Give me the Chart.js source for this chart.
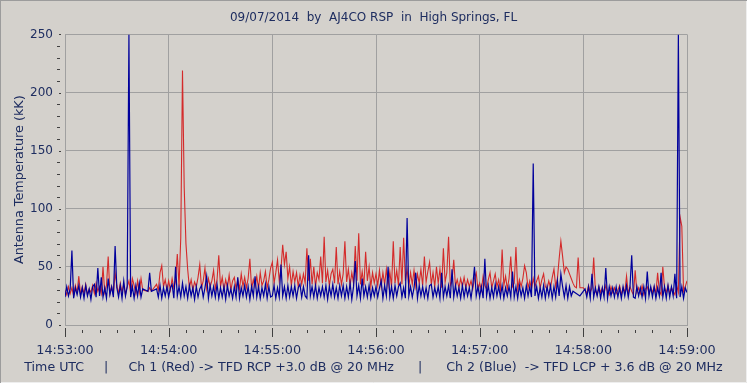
<!DOCTYPE html>
<html><head><meta charset="utf-8">
<script src="https://cdn.jsdelivr.net/npm/chart.js@4/dist/chart.umd.min.js"></script>
<style>html,body{margin:0;padding:0;background:#d4d1cc;}#wrap{width:747px;height:383px;position:relative}</style>
</head><body><div id="wrap"><canvas id="c" width="747" height="383"></canvas></div>
<script>
// time axis: seconds after 14:53:00 (one sample per second)
const sampleSeconds = Array.from({length: 361}, (_, i) => i);
const tickSeconds = [0, 60, 120, 180, 240, 300, 360];
const tickLabels = ['14:53:00','14:54:00','14:55:00','14:56:00','14:57:00','14:58:00','14:59:00'];
const yTicks = [0, 50, 100, 150, 200, 250];

// Ch 2 (Blue) antenna temperature, kK
const ch2Blue = [
24,33,25,31,64,23,32,26,34,24,
32,23,34,25,31,22,33,35,24,49,
25,41,24,32,23,40,26,33,24,68,
32,24,34,23,38,25,33,250,24,33,
23,34,25,36,24,31,null,null,29,45,
29,null,null,31,24,34,23,32,25,33,
24,32,35,23,50,25,33,24,36,25,
33,23,34,25,32,22,33,24,31,34,
24,32,42,23,34,25,33,24,35,23,
32,24,33,22,34,25,31,23,33,24,
41,23,32,25,34,24,33,22,33,25,
42,24,33,23,32,25,35,23,33,24,
25,34,23,32,24,52,25,33,23,34,
24,33,25,34,23,32,35,24,33,25,
23,60,25,33,24,34,23,32,25,33,
24,34,22,33,25,35,24,32,23,34,
25,34,23,33,24,36,22,33,55,25,
34,23,40,25,33,24,34,23,32,25,
33,24,32,38,23,34,25,50,24,33,
23,34,25,33,36,24,32,23,92,25,
33,24,32,45,23,34,25,33,24,32,
23,34,35,24,32,25,33,23,45,24,
33,25,34,23,48,24,34,25,32,23,
34,24,33,25,32,23,34,50,25,33,
24,33,23,57,25,34,23,32,24,35,
25,33,24,34,23,32,25,33,24,46,
24,33,23,34,25,32,23,34,25,33,
24,139,25,33,23,32,24,34,23,33,
25,34,23,33,24,38,25,44,33,24,
34,23,33,25,29,null,null,null,25,null,
null,31,24,33,23,44,24,32,25,33,
23,32,24,49,23,33,25,32,24,33,
24,32,23,33,25,34,24,33,60,24,
23,33,25,32,24,33,23,46,25,33,
24,33,23,32,25,45,24,33,23,34,
24,33,25,44,23,250,24,33,23,32,
28
];

// Ch 1 (Red) antenna temperature, kK
const ch1Red = [
30,26,33,27,32,25,34,28,42,26,
33,27,35,26,31,28,34,27,36,29,
33,27,50,28,34,59,27,33,26,45,
34,27,36,28,35,26,33,38,27,40,
34,27,38,28,40,30,null,null,29,32,
29,null,null,35,30,45,51,33,39,30,
38,30,40,32,38,61,33,75,219,118,
70,48,32,39,30,37,33,41,52,32,
38,49,31,40,33,38,47,31,39,60,
33,41,30,39,32,43,30,38,41,31,
39,31,44,33,41,32,40,57,31,39,
33,42,31,45,34,38,46,32,39,49,
54,36,45,56,38,48,69,52,63,40,
50,34,46,37,45,33,43,35,44,36,
66,38,57,35,50,33,45,39,59,36,
76,37,47,34,44,48,36,67,35,46,
35,44,72,37,48,34,45,36,68,38,
79,35,46,34,63,38,50,33,45,36,
44,34,47,33,45,35,48,34,46,33,
72,36,47,34,67,35,75,38,48,33,
45,35,47,33,44,36,48,34,59,37,
46,54,35,45,33,50,36,48,32,66,
37,45,76,34,38,56,33,39,32,40,
33,41,32,39,33,38,31,40,45,31,
36,30,42,34,31,39,45,32,38,44,
33,39,30,65,34,42,31,40,59,33,
36,67,31,39,33,40,51,45,32,38,
31,40,33,38,42,32,39,44,33,31,
38,32,41,48,33,40,57,72,59,45,
50,48,44,40,36,33,32,58,32,32,
32,30,27,34,28,32,58,29,26,33,
28,32,27,34,29,26,33,28,32,27,
30,34,26,32,28,42,27,33,29,26,
47,28,32,27,34,26,31,33,27,32,
28,33,27,45,29,26,50,32,28,34,
27,32,29,26,34,28,93,85,29,33,
38
];

const TITLE = '09/07/2014  by  AJ4CO RSP  in  High Springs, FL';
const Y_TITLE = 'Antenna Temperature (kK)';
const CAPTION = 'Time UTC     |     Ch 1 (Red) -> TFD RCP +3.0 dB @ 20 MHz      |      Ch 2 (Blue)  -> TFD LCP + 3.6 dB @ 20 MHz';

const BG = '#d4d1cc', GRID = '#a0a0a0', TXT = '#1e2d60', TICK = '#404040';
const RED = '#d42a2a', BLUE = '#00009c';
const FAM = '"DejaVu Sans", Verdana, sans-serif';
const F_TITLE = {family: FAM, size: 12, weight: 'normal'};
const F_AX = {family: FAM, size: 12.8, weight: 'normal'};
const F_CAP = {family: FAM, size: 12.6, weight: 'normal'};
const F_Y = {family: FAM, size: 12, weight: 'normal'};
const CAP_PAD = {top: 0, bottom: 8};
const CAP_H = F_CAP.size * 1.2 + CAP_PAD.top + CAP_PAD.bottom;

const framePlugin = {
  id: 'frame',
  beforeDraw(chart) {
    const {ctx, width, height} = chart;
    ctx.save();
    ctx.fillStyle = BG; ctx.fillRect(0, 0, width, height);
    ctx.restore();
  },
  afterDraw(chart) {
    const {ctx, width, height} = chart;
    ctx.save();
    ctx.strokeStyle = '#9c9c9c'; ctx.lineWidth = 2;
    ctx.beginPath(); ctx.moveTo(0, height); ctx.lineTo(0, 0); ctx.lineTo(width, 0); ctx.stroke();
    ctx.strokeStyle = '#eeeeee'; ctx.lineWidth = 1;
    ctx.beginPath(); ctx.moveTo(width - 0.5, 1); ctx.lineTo(width - 0.5, height - 0.5); ctx.lineTo(1, height - 0.5); ctx.stroke();
    ctx.restore();
  }
};

const xMinorStep = 10, yMinorStep = 10;
const minorTicks = {
  id: 'minorTicks',
  afterDraw(chart) {
    const {ctx, chartArea: a} = chart;
    const xs = chart.scales.x, ys = chart.scales.y;
    ctx.save(); ctx.strokeStyle = TICK; ctx.lineWidth = 1;
    for (let v = xs.min; v <= xs.max; v += xMinorStep) {
      const px = Math.round(xs.getPixelForValue(v)) + 0.5;
      const major = tickSeconds.includes(v);
      ctx.beginPath();
      ctx.moveTo(px, a.bottom + (major ? 3 : 5));
      ctx.lineTo(px, a.bottom + (major ? 12 : 8));
      ctx.stroke();
    }
    for (let v = ys.min; v <= ys.max; v += yMinorStep) {
      const py = Math.round(ys.getPixelForValue(v)) + 0.5;
      const major = yTicks.includes(v);
      ctx.beginPath();
      ctx.moveTo(a.left - (major ? 6 : 8), py);
      ctx.lineTo(a.left - (major ? 4 : 5), py);
      ctx.stroke();
    }
    ctx.restore();
  }
};

const toXY = arr => arr.map((v, i) => ({x: sampleSeconds[i], y: v}));

new Chart(document.getElementById('c'), {
  type: 'line',
  data: {
    datasets: [
      {label: 'Ch 1 (Red)', data: toXY(ch1Red), borderColor: RED, borderWidth: 1.1, pointRadius: 0, tension: 0, spanGaps: true, order: 2},
      {label: 'Ch 2 (Blue)', data: toXY(ch2Blue), borderColor: BLUE, borderWidth: 1.2, pointRadius: 0, tension: 0, spanGaps: true, order: 1}
    ]
  },
  options: {
    responsive: false, animation: false, devicePixelRatio: 1,
    layout: {padding: 0},
    plugins: {
      legend: {display: false}, tooltip: {enabled: false},
      title: {display: true, text: TITLE, color: TXT, font: F_TITLE, padding: {top: 11, bottom: 9}},
      subtitle: {display: true, position: 'bottom', text: CAPTION, color: TXT, font: F_CAP, padding: CAP_PAD}
    },
    scales: {
      x: {
        type: 'linear', min: 0, max: 360,
        afterBuildTicks: s => { s.ticks = tickSeconds.map(v => ({value: v})); },
        ticks: {callback: v => tickLabels[tickSeconds.indexOf(v)], color: TXT, font: F_AX, padding: 18, maxRotation: 0, autoSkip: false},
        grid: {color: GRID, drawTicks: false},
        border: {color: GRID},
        afterFit: s => { s.height = 383 - 325 - CAP_H; }
      },
      y: {
        min: 0, max: 250,
        afterBuildTicks: s => { s.ticks = yTicks.map(v => ({value: v})); },
        ticks: {callback: v => String(v), color: TXT, font: F_Y, padding: 12},
        grid: {color: GRID, drawTicks: false},
        border: {color: GRID},
        title: {display: true, text: Y_TITLE, color: TXT, font: F_AX, padding: {top: 12, bottom: 0}},
        afterFit: s => { s.width = 65; }
      },
      yRight: {
        axis: 'y', position: 'right', display: true,
        ticks: {display: false}, grid: {display: false}, border: {display: false},
        afterFit: s => { s.width = 60; }
      }
    }
  },
  plugins: [framePlugin, minorTicks]
});
</script>
</body></html>
